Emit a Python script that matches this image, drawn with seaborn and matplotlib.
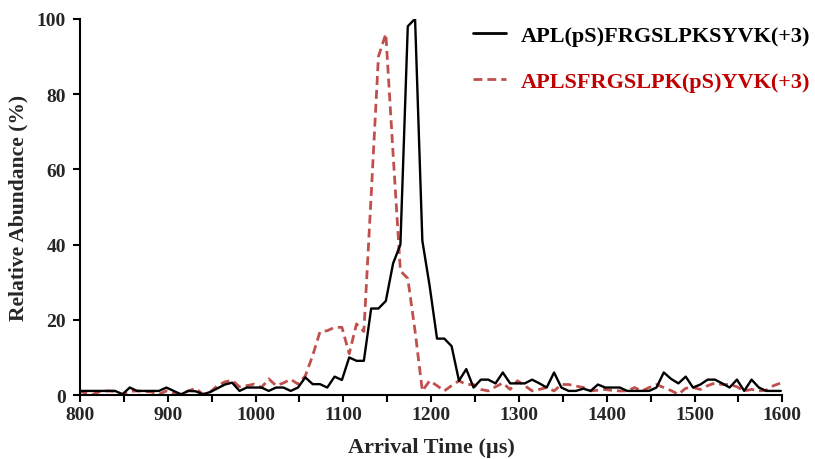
import matplotlib
matplotlib.use("Agg")
import matplotlib.pyplot as plt
import seaborn as sns
import pandas as pd
from matplotlib.lines import Line2D

# Arrival time grid (µs)
times = [798.5, 806.8, 815.2, 823.5, 831.8, 840.2, 848.5, 856.8, 865.1, 873.5,
         881.8, 890.1, 898.5, 906.8, 915.1, 923.5, 931.8, 940.1, 948.4, 956.8,
         965.1, 973.4, 981.8, 990.1, 998.4, 1006.8, 1015.1, 1023.4, 1031.7, 1040.1,
         1048.4, 1056.7, 1065.1, 1073.4, 1081.7, 1090.1, 1098.4, 1106.7, 1115.0, 1123.4,
         1131.7, 1140.0, 1148.4, 1156.7, 1165.0, 1173.4, 1181.7, 1190.0, 1198.3, 1206.7,
         1215.0, 1223.3, 1231.7, 1240.0, 1248.3, 1256.7, 1265.0, 1273.3, 1281.6, 1290.0,
         1298.3, 1306.6, 1315.0, 1323.3, 1331.6, 1340.0, 1348.3, 1356.6, 1364.9, 1373.3,
         1381.6, 1389.9, 1398.3, 1406.6, 1414.9, 1423.3, 1431.6, 1439.9, 1448.2, 1456.6,
         1464.9, 1473.2, 1481.6, 1489.9, 1498.2, 1506.6, 1514.9, 1523.2, 1531.5, 1539.9,
         1548.2, 1556.5, 1564.9, 1573.2, 1581.5, 1589.9, 1598.2]

# APL(pS)FRGSLPKSYVK(+3)  (black solid)
black_vals = [1.1, 1.1, 1.1, 1.1, 1.1, 1.1, 0.2, 2.0, 1.1, 1.1,
              1.1, 1.1, 2.0, 1.1, 0.2, 1.1, 1.0, 0.2, 0.8, 1.8,
              2.8, 3.3, 1.1, 2.0, 2.0, 2.0, 1.1, 2.0, 2.0, 1.1,
              2.0, 4.7, 2.9, 2.9, 2.0, 4.9, 4.0, 10.0, 9.1, 9.1,
              23.0, 23.0, 25.0, 35.0, 40.0, 98.0, 100.0, 41.0, 29.0, 15.0,
              15.0, 13.0, 3.8, 6.9, 2.0, 4.1, 4.1, 3.1, 6.0, 3.1,
              3.1, 3.1, 4.1, 3.1, 2.0, 6.0, 2.0, 1.1, 1.1, 1.7,
              1.1, 2.8, 2.0, 2.0, 2.0, 1.1, 1.1, 1.1, 1.1, 2.0,
              6.0, 4.3, 3.1, 4.9, 2.0, 2.8, 4.1, 4.1, 3.1, 2.0,
              4.1, 1.1, 4.1, 2.0, 1.1, 1.1, 1.1]

# APLSFRGSLPK(pS)YVK(+3)  (red dashed)
red_vals = [1.1, 0.5, 0.2, 1.0, 1.1, 1.0, 0.2, 1.0, 1.1, 1.0,
            0.8, 0.2, 1.1, 0.5, 0.2, 1.1, 1.8, 0.2, 0.8, 2.5,
            3.5, 3.9, 2.2, 2.5, 2.9, 2.0, 4.3, 2.5, 3.2, 4.2,
            2.9, 5.1, 10.5, 16.8, 17.1, 18.0, 18.0, 11.0, 18.9, 16.9,
            53.0, 90.0, 96.0, 64.0, 33.0, 31.0, 17.0, 1.1, 3.8, 2.5,
            1.1, 2.5, 3.8, 2.8, 2.8, 1.5, 1.1, 2.2, 3.2, 1.5,
            3.8, 2.5, 1.1, 1.5, 2.0, 1.1, 2.8, 2.8, 2.4, 2.0,
            1.1, 1.3, 1.5, 1.2, 1.1, 1.1, 2.0, 1.1, 2.0, 2.8,
            2.0, 1.2, 0.2, 1.8, 2.0, 1.5, 2.5, 3.2, 2.8, 2.8,
            2.2, 1.1, 1.5, 1.1, 1.3, 2.5, 3.2]

series_names = ["APL(pS)FRGSLPKSYVK(+3)", "APLSFRGSLPK(pS)YVK(+3)"]
x_ticks = [800, 900, 1000, 1100, 1200, 1300, 1400, 1500, 1600]
y_ticks = [0, 20, 40, 60, 80, 100]

sns.set_theme(style="white")
plt.rcParams["font.family"] = ["Liberation Serif", "DejaVu Serif"]
plt.rcParams["font.weight"] = "bold"

fig = plt.figure(figsize=(8.15, 4.6), dpi=100)
ax = fig.add_axes([0.098, 0.139, 0.862, 0.818])

black_col = "#000000"
red_line = "#C0504D"
red_text = "#C00000"
dash = (0, (3.2, 1.8))

df_b = pd.DataFrame({"t": times, "v": black_vals})
df_r = pd.DataFrame({"t": times, "v": red_vals})
sns.lineplot(data=df_r, x="t", y="v", ax=ax, color=red_line, linewidth=2.0,
             linestyle=dash, zorder=2)
sns.lineplot(data=df_b, x="t", y="v", ax=ax, color=black_col, linewidth=1.7, zorder=3)

ax.set_xlim(800, 1600)
ax.set_ylim(0, 100)
minor = list(range(800, 1601, 50))
ax.set_xticks(minor)
ax.set_xticklabels([str(v) if v in x_ticks else "" for v in minor])
ax.set_yticks(y_ticks)
ax.set_yticklabels([str(v) for v in y_ticks])
for lab in ax.get_xticklabels() + ax.get_yticklabels():
    lab.set_fontweight("bold")
    lab.set_fontsize(14)
ax.tick_params(axis="both", direction="out", length=5, width=1.5, color="black",
               bottom=True, left=True)
ax.tick_params(axis="x", pad=3)
ax.tick_params(axis="y", pad=5)

for s in ["top", "right"]:
    ax.spines[s].set_visible(False)
for s in ["left", "bottom"]:
    ax.spines[s].set_color("black")
    ax.spines[s].set_linewidth(1.5)

ax.set_xlabel("Arrival Time (µs)", fontsize=16, fontweight="bold", labelpad=10)
ax.set_ylabel("Relative Abundance (%)", fontsize=15.5, fontweight="bold", labelpad=6)

handles = [Line2D([0], [0], color=black_col, linewidth=2.0),
           Line2D([0], [0], color=red_line, linewidth=2.0, linestyle=dash)]
leg = ax.legend(handles, series_names, loc="upper left", bbox_to_anchor=(0.56, 0.982),
                frameon=False, fontsize=16, handlelength=1.45, handletextpad=0.7,
                labelspacing=1.15, borderpad=0, borderaxespad=0)
leg.get_texts()[0].set_color("black")
leg.get_texts()[1].set_color(red_text)
for t in leg.get_texts():
    t.set_fontweight("bold")

fig.savefig("out.png", dpi=100)
